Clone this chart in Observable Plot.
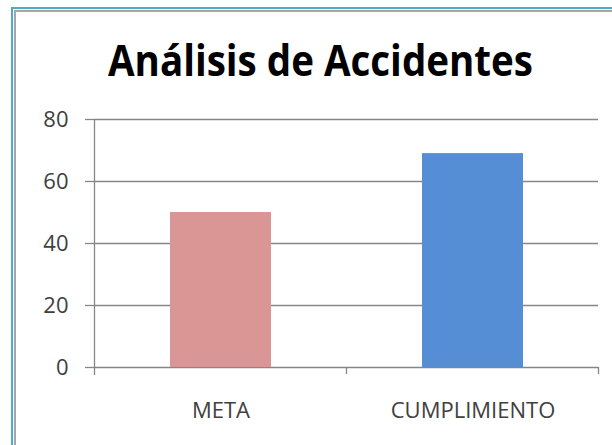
<!DOCTYPE html>
<html><head><meta charset="utf-8">
<script src="https://cdn.jsdelivr.net/npm/d3@7"></script>
<script src="https://cdn.jsdelivr.net/npm/@observablehq/plot@0.6"></script>
<style>
html,body{margin:0;padding:0;background:#fff;width:612px;height:445px;overflow:hidden;position:relative}
#frame1{position:absolute;left:11px;top:7px;width:700px;height:500px;border-left:2px solid #4bacc6;border-top:2px solid #4bacc6;}
#frame2{position:absolute;left:14px;top:10px;width:700px;height:500px;border-left:2px solid #a6a6a6;border-top:2px solid #a6a6a6;}
#chart{position:absolute;left:0;top:0}
#title{position:absolute;left:0;top:0;white-space:nowrap;font-family:"Open Sans",sans-serif;font-weight:700;font-size:43px;line-height:43px;color:#000;transform-origin:0 0}
</style>
</head><body>
<div id="frame1"></div><div id="frame2"></div>
<div id="chart"></div>
<div id="title">Análisis de Accidentes</div>
<script>
const titleText = "Análisis de Accidentes";
const categories = ["META", "CUMPLIMIENTO"];
const values = [50, 69];
const barColors = ["#D99694", "#558ED5"];
const yTicks = [0, 20, 40, 60, 80];

const data = categories.map((c, i) => ({cat: c, value: values[i]}));
const gridColor = "#868686";

const boundaryMark = (index, scales, channels, dims) => {
  const x = scales.x, y = scales.y;
  const step = x.step(), bw = x.bandwidth();
  const g = d3.create("svg:g").attr("stroke", gridColor).attr("stroke-width", 1.3);
  const y0 = y(0), yTop = y(yTicks[yTicks.length - 1]);
  const bounds = categories.map(c => x(c) - (step - bw) / 2);
  bounds.push(bounds[bounds.length - 1] + step);
  // y-axis line
  g.append("line").attr("x1", bounds[0]).attr("x2", bounds[0]).attr("y1", yTop).attr("y2", y0 + 8);
  // category boundary ticks
  bounds.slice(1).forEach(b => {
    g.append("line").attr("x1", b).attr("x2", b).attr("y1", y0).attr("y2", y0 + 7);
  });
  return g.node();
};

const plot = Plot.plot({
  width: 612,
  height: 445,
  marginTop: 119,
  marginBottom: 78,
  marginLeft: 94,
  marginRight: 14,
  style: {fontFamily: "'Open Sans', sans-serif", fontSize: "22px", color: "#404040", background: "transparent"},
  x: {domain: categories, paddingInner: 0.6, paddingOuter: 0.3, label: null},
  y: {domain: [0, 80], ticks: yTicks, label: null},
  color: {domain: categories, range: barColors},
  marks: [
    Plot.ruleY(yTicks, {stroke: gridColor, strokeWidth: 1.3, strokeOpacity: 1}),
    Plot.barY(data, {x: "cat", y: "value", fill: "cat"}),
    Plot.axisY({ticks: yTicks, tickSize: 9, tickPadding: 17, stroke: gridColor, strokeWidth: 1.3, fill: "#404040", label: null}),
    Plot.axisX({tickSize: 0, tickPadding: 35, fill: "#404040", label: null}),
    boundaryMark
  ]
});
document.getElementById("chart").appendChild(plot);

// fit title to its box in the reference (left 108, right 533, baseline ~76)
const t = document.getElementById("title");
t.textContent = titleText;
const w = t.getBoundingClientRect().width;
const targetW = 425;
const sx = targetW / w;
t.style.left = (320.5 - targetW / 2) + "px";
t.style.top = "38px";
t.style.transform = `scaleX(${sx})`;
</script>
</body></html>
